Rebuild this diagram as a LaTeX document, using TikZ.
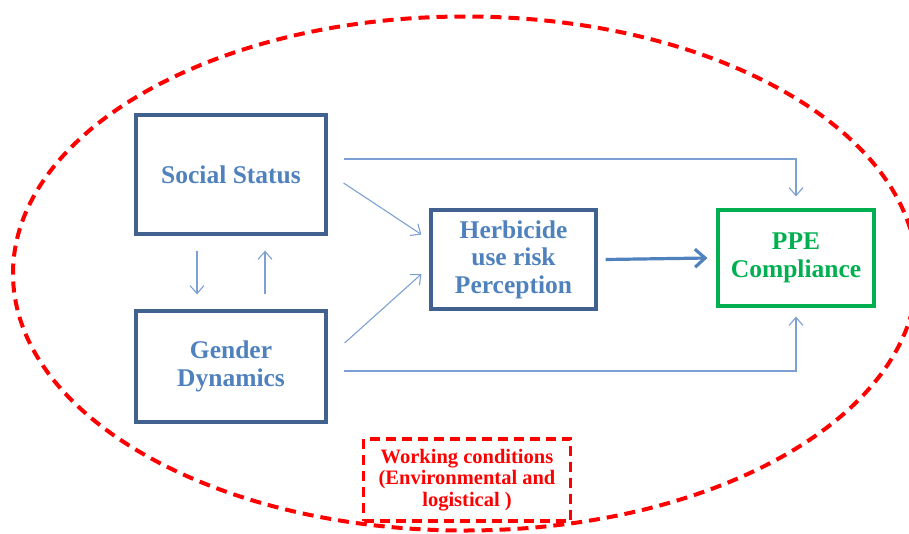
\documentclass[tikz,border=0pt]{standalone}
\usepackage{fontspec}
\setmainfont{Liberation Serif}
\usetikzlibrary{arrows.meta,positioning}
\definecolor{boxblue}{RGB}{65,98,142}
\definecolor{textblue}{RGB}{79,129,189}
\definecolor{lineblue}{RGB}{125,160,212}
\definecolor{pgreen}{RGB}{0,176,80}
\newcommand{\Link}[2]{\draw [link] (#1) -- (#2);}

\begin{document}
\begin{tikzpicture}
[x=1pt, y=-1pt,
 factor/.style={draw=boxblue, line width=3.2pt, align=center, inner sep=0pt, text=textblue, font=\fontsize{25.5}{27.5}\selectfont\bfseries},
 outcome/.style={factor, draw=pgreen, text=pgreen},
 context/.style={draw=red, line width=3.4pt, dash pattern=on 10pt off 6pt, align=center, inner sep=0pt, text=red, font=\fontsize{20.5}{21.5}\selectfont\bfseries},
 link/.style={-{Straight Barb[length=8pt,width=14pt]}, draw=lineblue, line width=1.1pt},
 mainlink/.style={-{Straight Barb[length=10pt,width=18pt]}, draw=textblue, line width=3.2pt},]

\useasboundingbox (0,0) rectangle (909,533);
\draw [red, line width=4pt, dash pattern=on 11pt off 7pt] (465,273.5) ellipse [x radius=452, y radius=257];

\node [factor, minimum width=190pt, minimum height=119pt] at (231,174.5) (S) {Social Status};
\node [factor, minimum width=190pt, minimum height=111pt] at (231,366.5) (G) {Gender\\Dynamics};
\node [factor, minimum width=165pt, minimum height=99pt] at (513.5,259.5) (H) {Herbicide\\use risk\\Perception};
\node [outcome, minimum width=156pt, minimum height=96pt] at (796,258) (P) {PPE\\Compliance};
\node [context, minimum width=207pt, minimum height=82pt] at (467,480) (W) {Working conditions\\(Environmental and\\logistical )};

\Link{[xshift=16pt,yshift=-8.5pt]S.east}{[xshift=-8pt,yshift=25pt]H.west}
\Link{[xshift=17pt,yshift=23.5pt]G.east}{[xshift=-8pt,yshift=-14.5pt]H.west}
\Link{[xshift=-34pt,yshift=-15pt]S.south}{[xshift=-34pt,yshift=15pt]G.north}
\Link{[xshift=34pt,yshift=15pt]G.north}{[xshift=34pt,yshift=-15pt]S.south}
\draw [link] ([xshift=16pt,yshift=15.5pt]S.east) -| ([yshift=12pt]P.north);
\draw [link] ([xshift=16pt,yshift=-4.5pt]G.east) -| ([yshift=-9pt]P.south);
\draw [mainlink] ([xshift=8pt]H.east) -- ([xshift=-9pt]P.west);
\end{tikzpicture}
\end{document}
